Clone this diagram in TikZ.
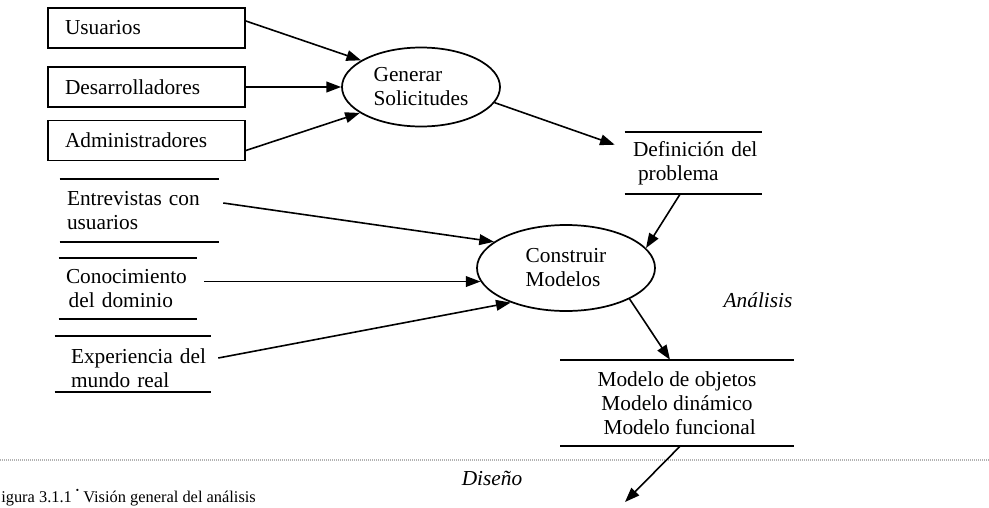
\documentclass[tikz,border=0pt]{standalone}
\usepackage{fontspec}
\setmainfont{Liberation Serif}
\usetikzlibrary{calc,arrows.meta,shapes.geometric}
\hyphenpenalty=10000
\begin{document}
\begin{tikzpicture}[x=0.75pt,y=-0.75pt,
  every node/.style={font=\fontsize{16}{18}\selectfont},
  line/.style={line width=1.3pt},
  flow/.style={line width=1.2pt,-{Triangle[length=11pt,width=8pt]}},
  srcbox/.style={draw,line width=1.3pt,minimum width=147.75pt,minimum height=30pt,
    inner xsep=12.75pt,inner ysep=0pt,text width=122.25pt,align=left},
  proc/.style={draw,ellipse,line width=1.3pt,inner sep=0pt,align=left},
  store/.style={inner ysep=0pt,align=left},
  phase/.style={font=\fontsize{16}{18}\selectfont\itshape},
  divider/.style={gray!60,line width=1.5pt,dash pattern=on 0.8pt off 0.7pt}]

\useasboundingbox (0,0) rectangle (989,507);
\clip (0,0) rectangle (989,507);

% sources
\node[srcbox] (u) at (146.5,28) {Usuarios};
\node[srcbox] (d) at (146.5,87) {Desarrolladores};
\node[srcbox] (a) at (146.5,140.5) {Administradores};

% processes
\node[proc,minimum width=118.5pt,minimum height=59.25pt] (gen) at (421,87) {Generar\\Solicitudes};
\node[proc,minimum width=133.5pt,minimum height=64.5pt] (cm) at (566,268) {Construir\\Modelos};

% data stores
\node[store,minimum width=102.75pt,minimum height=46.5pt,inner xsep=6pt,text width=90.75pt]
  (def) at (693.5,163) {\mbox{Definición del}\\\hspace{3.75pt}problema};
\node[store,minimum width=119.25pt,minimum height=47.25pt,inner xsep=5.25pt,text width=108.75pt]
  (ent) at (139.5,210.5) {\mbox{Entrevistas con}\\usuarios};
\node[store,minimum width=103.5pt,minimum height=45.75pt,inner xsep=5.25pt,text width=93pt]
  (con) at (128,288.5) {\mbox{Conocimiento}\\\hspace{2pt}del dominio};
\node[store,minimum width=117pt,minimum height=42pt,inner xsep=12pt,text width=93pt]
  (exp) at (133,364) {\hspace{2.25pt}\mbox{Experiencia del}\\mundo real};
\node[store,minimum width=174.75pt,minimum height=64.5pt,inner xsep=0pt,align=center]
  (mod) at (677,403) {Modelo de objetos\\Modelo dinámico\\\hspace{4pt}Modelo funcional};

\foreach \s in {def,ent,con,exp,mod}
  \draw[line] (\s.north west) -- (\s.north east) (\s.south west) -- (\s.south east);

% phase labels and divider
\node[phase] (an) at (758,300) {Análisis};
\node[phase] (ds) at (492,478) {Diseño};
\coordinate (dl) at (0,460);
\coordinate (dr) at (989,460);
\draw[divider] (dl) -- (dr);

\node[font=\fontsize{12.3}{14}\selectfont,anchor=base west,inner sep=0pt] (cap) at (1,502)
  {igura 3.1.1 \raisebox{0.5em}{\fontsize{7}{7}\selectfont\textbullet} Visión general del análisis};

% flows
\draw[flow] ($(u.east)+(0,-7)$) -- (gen.156);
\draw[flow] (d.east) -- (gen.west);
\draw[flow] ($(a.east)+(0,10)$) -- (gen.203);
\draw[flow] (gen.348) -- ($(def.north west)+(-10,13)$);
\draw[flow] ($(def.south)+(-13.5,0)$) -- (cm.14);
\draw[flow] ($(ent.east)+(4,-7.5)$) -- (cm.160);
\coordinate (cs) at ($(con.east)+(7,0)$);
\draw[flow] (cs |- cm.189) -- (cm.189);
\draw[flow] ($(exp.east)+(7,-6)$) -- (cm.212);
\draw[flow] (cm.334) -- ($(mod.north)+(-7,0)$);
\coordinate (next) at (625,502);
\draw[flow] ($(mod.south)+(3,0)$) -- (next);
\end{tikzpicture}
\end{document}
